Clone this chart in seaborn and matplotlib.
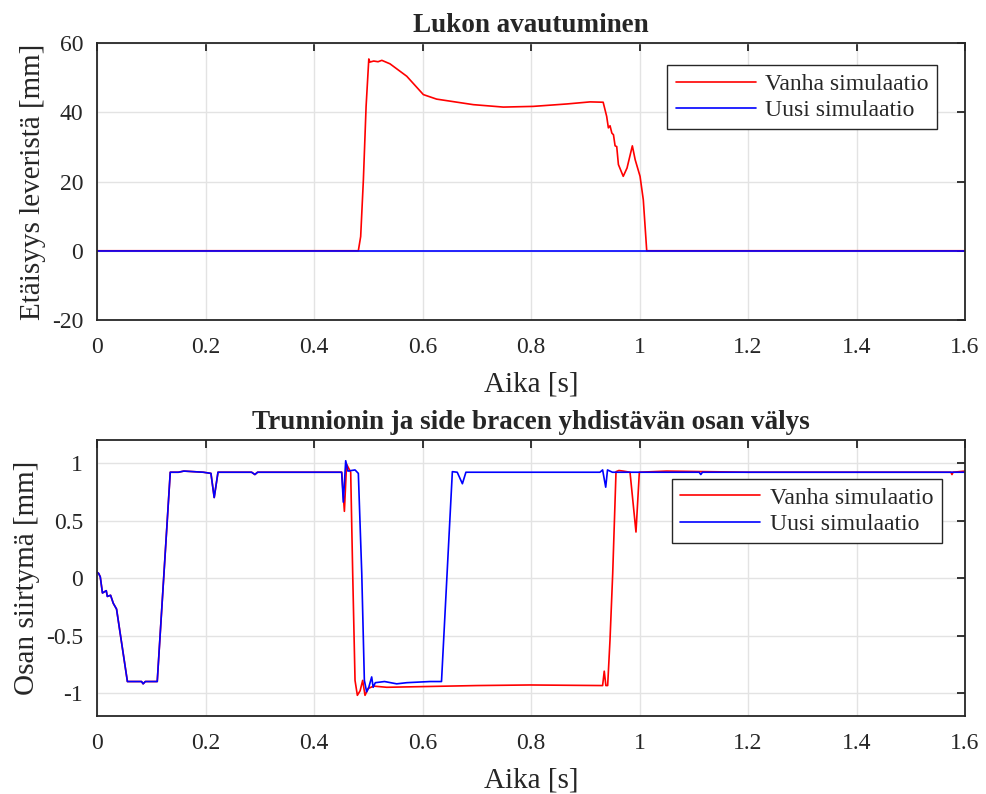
import numpy as np
import pandas as pd
import matplotlib
matplotlib.use("Agg")
import matplotlib.pyplot as plt
from matplotlib.ticker import FuncFormatter, MultipleLocator
import seaborn as sns

# --- data ---
# top panel: lock opening distance [mm]
lock_t_old = [0, 0.4817, 0.486, 0.491, 0.496, 0.501, 0.503, 0.510, 0.518, 0.525, 0.540,
              0.571, 0.6016, 0.626, 0.6937, 0.749, 0.804, 0.866, 0.909, 0.933, 0.9395,
              0.9426, 0.9457, 0.949, 0.952, 0.955, 0.958, 0.9611, 0.970, 0.977, 0.9868,
              0.992, 1.001, 1.007, 1.0133, 1.6]
lock_y_old = [0, 0, 4.1, 20.5, 41.7, 55.4, 54.5, 54.8, 54.6, 55.0, 54.0,
              50.4, 45.1, 43.8, 42.2, 41.5, 41.7, 42.4, 43.0, 42.9, 38.8,
              35.5, 36.1, 34.0, 33.5, 30.3, 30.1, 24.9, 21.5, 23.9, 30.3,
              26.3, 21.5, 14.7, 0, 0]
lock_t_new = [0, 1.6]
lock_y_new = [0, 0]

# bottom panel: clearance displacement [mm], both runs identical up to ~0.45 s
common_t = [0.0, 0.003, 0.006, 0.010, 0.017, 0.019, 0.025, 0.030, 0.036, 0.056, 0.082,
            0.085, 0.089, 0.111, 0.135, 0.150, 0.160, 0.196, 0.210, 0.216, 0.223,
            0.260, 0.285, 0.291, 0.296, 0.350, 0.400, 0.449]
common_y = [0.05, 0.04, 0.01, -0.13, -0.11, -0.16, -0.15, -0.22, -0.27, -0.90, -0.90,
            -0.92, -0.90, -0.90, 0.92, 0.92, 0.93, 0.92, 0.91, 0.70, 0.92,
            0.92, 0.92, 0.90, 0.92, 0.92, 0.92, 0.92]

gap_t_old = [0.451, 0.456, 0.460, 0.4676, 0.4713, 0.4756, 0.4799, 0.485, 0.4897, 0.494,
             0.500, 0.510, 0.534, 0.5904, 0.700, 0.798, 0.932, 0.935, 0.938, 0.9413,
             0.9456, 0.9506, 0.9567, 0.962, 0.970, 0.9825, 0.9935, 0.9997, 1.05, 1.2,
             1.4, 1.574, 1.576, 1.578, 1.6]
gap_y_old = [0.92, 0.58, 0.99, 0.92, 0.04, -0.89, -1.02, -0.98, -0.89, -1.02,
             -0.96, -0.94, -0.95, -0.945, -0.935, -0.93, -0.935, -0.81, -0.935, -0.935,
             -0.54, 0.04, 0.925, 0.935, 0.93, 0.92, 0.40, 0.92, 0.93, 0.92,
             0.92, 0.92, 0.90, 0.92, 0.93]

gap_t_new = [0.451, 0.454, 0.4584, 0.4625, 0.4756, 0.4817, 0.488, 0.4928, 0.497, 0.501,
             0.5063, 0.509, 0.513, 0.530, 0.5524, 0.571, 0.614, 0.635, 0.655, 0.664,
             0.6735, 0.680, 0.700, 0.800, 0.927, 0.932, 0.9377, 0.941, 0.950, 1.0,
             1.11, 1.113, 1.116, 1.2, 1.4, 1.6]
gap_y_new = [0.92, 0.66, 1.02, 0.93, 0.94, 0.91, 0.04, -0.89, -0.99, -0.95,
             -0.86, -0.95, -0.91, -0.90, -0.92, -0.91, -0.90, -0.90, 0.925, 0.92,
             0.82, 0.92, 0.92, 0.92, 0.92, 0.94, 0.79, 0.94, 0.92, 0.92,
             0.92, 0.90, 0.92, 0.92, 0.92, 0.92]

labels = ['Vanha simulaatio', 'Uusi simulaatio']
colors = ['#ff0000', '#0000ff']

sns.set_style("whitegrid")
plt.rcParams['font.family'] = ['Liberation Serif', 'DejaVu Serif']
plt.rcParams['axes.unicode_minus'] = False

fig = plt.figure(figsize=(9.86, 7.94), dpi=100)
ax1 = fig.add_axes([0.0984, 0.597, 0.8803, 0.3488])
ax2 = fig.add_axes([0.0984, 0.0982, 0.8803, 0.3476])

sns.lineplot(x=lock_t_old, y=lock_y_old, color=colors[0], label=labels[0],
             linewidth=1.2, estimator=None, ax=ax1)
sns.lineplot(x=lock_t_new, y=lock_y_new, color=colors[1], label=labels[1],
             linewidth=1.2, estimator=None, ax=ax1)

sns.lineplot(x=common_t + gap_t_old, y=common_y + gap_y_old, color=colors[0],
             label=labels[0], linewidth=1.2, estimator=None, ax=ax2)
sns.lineplot(x=common_t + gap_t_new, y=common_y + gap_y_new, color=colors[1],
             label=labels[1], linewidth=1.2, estimator=None, ax=ax2)

fmt = FuncFormatter(lambda v, p: '%g' % round(v, 6))
for ax in (ax1, ax2):
    ax.set_xlim(0, 1.6)
    ax.xaxis.set_major_locator(MultipleLocator(0.2))
    ax.xaxis.set_major_formatter(fmt)
    ax.yaxis.set_major_formatter(fmt)
    ax.grid(True, color='#e3e3e3', linewidth=1.0)
    for s in ax.spines.values():
        s.set_color('#262626')
        s.set_linewidth(1.3)
    ax.tick_params(direction='in', length=6, width=1.3, top=True, right=True,
                   labelsize=17, colors='#262626')
    ax.tick_params(axis='x', pad=12)
    ax.tick_params(axis='y', pad=10)
    ax.set_xlabel('Aika [s]', fontsize=21, color='#262626', labelpad=10)

ax1.set_ylim(-20, 60)
ax1.yaxis.set_major_locator(MultipleLocator(20))
ax1.set_ylabel('Etäisyys leveristä [mm]', fontsize=21, color='#262626', labelpad=4)
ax1.set_title('Lukon avautuminen', fontsize=19.5, fontweight='bold', pad=8)

ax2.set_ylim(-1.2, 1.2)
ax2.yaxis.set_major_locator(MultipleLocator(0.5))
ax2.set_ylabel('Osan siirtymä [mm]', fontsize=21, color='#262626', labelpad=4)
ax2.set_title('Trunnionin ja side bracen yhdistävän osan välys', fontsize=19.5,
              fontweight='bold', pad=8)

for ax, anchor in ((ax1, (0.968, 0.92)), (ax2, (0.973, 0.859))):
    leg = ax.legend(loc='upper right', bbox_to_anchor=anchor, fontsize=17,
                    frameon=True, fancybox=False, framealpha=1, edgecolor='#262626',
                    handlelength=3.4, borderpad=0.35, labelspacing=0.2,
                    handletextpad=0.4, borderaxespad=0)
    leg.get_frame().set_linewidth(1.0)

fig.savefig('out.png', dpi=100)
